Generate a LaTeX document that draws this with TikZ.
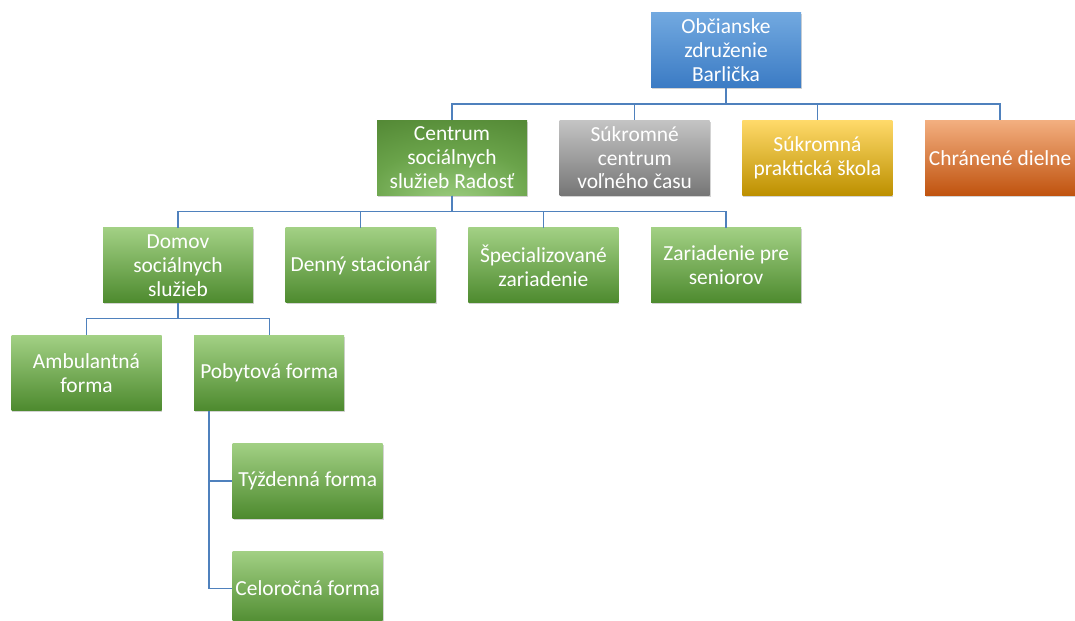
\documentclass[tikz,border=0pt]{standalone}
\usepackage{fontspec}
\setmainfont{Carlito}
\usetikzlibrary{positioning,shadows}

\definecolor{linkblue}{HTML}{4F81BD}
\definecolor{bltop}{HTML}{72A9E0}
\definecolor{blbot}{HTML}{3B7BC4}
\definecolor{grtop}{HTML}{A2D084}
\definecolor{grbot}{HTML}{4D8A2E}
\definecolor{gytop}{HTML}{C4C4C4}
\definecolor{gybot}{HTML}{767676}
\definecolor{yetop}{HTML}{FFDA6A}
\definecolor{yebot}{HTML}{BD9000}
\definecolor{ortop}{HTML}{F3AF80}
\definecolor{orbot}{HTML}{C0530F}
\definecolor{rdlight}{HTML}{9ECF82}
\definecolor{rdmid}{HTML}{6AA34A}
\definecolor{rddark}{HTML}{477A2A}

\pgfdeclareradialshading{glow}{\pgfpoint{0bp}{-32bp}}{color(0bp)=(rdlight); color(28bp)=(rdmid); color(60bp)=(rddark); color(100bp)=(rddark)}

\begin{document}
\begin{tikzpicture}[node distance=0.64cm,
                    orgnode/.style={rectangle, minimum width=3cm, minimum height=1.5cm, inner sep=1pt, align=center, text=white,
                                    font=\fontsize{12.2}{13.6}\selectfont,
                                    drop shadow={shadow xshift=0.5pt, shadow yshift=-0.9pt, opacity=0.35}},
                    greennode/.style={orgnode, top color=grtop, bottom color=grbot},
                    link/.style={draw=linkblue, line width=0.8pt}]
                \useasboundingbox (0,0) rectangle (21.5,-12.42);
                \node[orgnode, top color=bltop, bottom color=blbot] (oz) at (14.52,-1.0) {Občianske\\združenie\\Barlička};
                \node[orgnode, shading=glow] (radost) [below=of oz, xshift=-5.48cm] {Centrum\\sociálnych\\služieb Radosť};
                \node[orgnode, top color=gytop, bottom color=gybot] (cvc) [right=of radost] {Súkromné\\centrum\\voľného času};
                \node[orgnode, top color=yetop, bottom color=yebot] (skola) [right=of cvc] {Súkromná\\praktická škola};
                \node[orgnode, top color=ortop, bottom color=orbot] (dielne) [right=of skola] {Chránené dielne};
                \node[greennode] (dss) [below=of radost, xshift=-5.48cm] {Domov\\sociálnych\\služieb};
                \node[greennode] (ds) [right=of dss] {Denný stacionár};
                \node[greennode] (sz) [right=of ds] {Špecializované\\zariadenie};
                \node[greennode] (zps) [right=of sz] {Zariadenie pre\\seniorov};
                \node[greennode] (amb) [below=of dss, xshift=-1.83cm] {Ambulantná\\forma};
                \node[greennode] (pob) [right=of amb] {Pobytová forma};
                \node[greennode] (tyz) [below=of pob, xshift=0.77cm] {Týždenná forma};
                \node[greennode] (cel) [below=of tyz] {Celoročná forma};
                \draw[link] (oz.south) -- ++(0,-0.32) -| (radost.north);
                \draw[link] (oz.south) -- ++(0,-0.32) -| (cvc.north);
                \draw[link] (oz.south) -- ++(0,-0.32) -| (skola.north);
                \draw[link] (oz.south) -- ++(0,-0.32) -| (dielne.north);
                \draw[link] (radost.south) -- ++(0,-0.32) -| (dss.north);
                \draw[link] (radost.south) -- ++(0,-0.32) -| (ds.north);
                \draw[link] (radost.south) -- ++(0,-0.32) -| (sz.north);
                \draw[link] (radost.south) -- ++(0,-0.32) -| (zps.north);
                \draw[link] (dss.south) -- ++(0,-0.3) -| (amb.north);
                \draw[link] (dss.south) -- ++(0,-0.3) -| (pob.north);
                \draw[link] ([xshift=0.3cm]pob.south west) |- (tyz.west);
                \draw[link] ([xshift=0.3cm]pob.south west) |- (cel.west);
            \end{tikzpicture}
\end{document}
